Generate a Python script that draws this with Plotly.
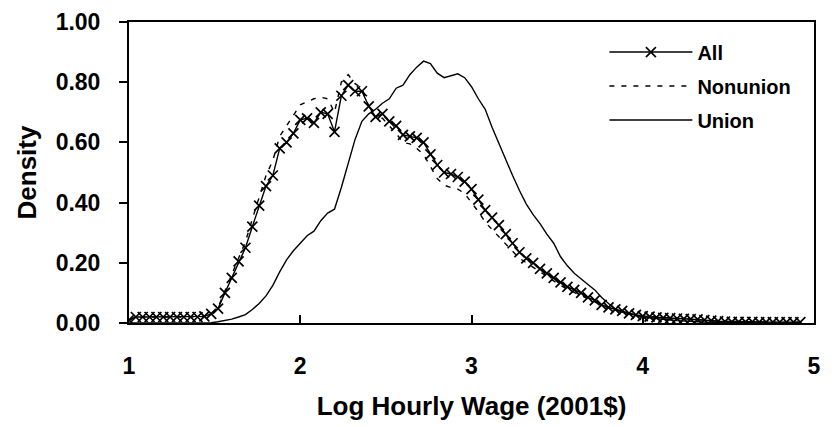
import plotly.graph_objects as go

# Log hourly wage grid (2001$)
log_wage = [
    1.00, 1.04, 1.08, 1.12, 1.16, 1.20, 1.24, 1.28, 1.32, 1.36,
    1.40, 1.44, 1.48, 1.52, 1.56, 1.60, 1.64, 1.68, 1.72, 1.76,
    1.80, 1.84, 1.88, 1.92, 1.96, 2.00, 2.04, 2.08, 2.12, 2.16,
    2.20, 2.24, 2.28, 2.32, 2.36, 2.40, 2.44, 2.48, 2.52, 2.56,
    2.60, 2.64, 2.68, 2.72, 2.76, 2.80, 2.84, 2.88, 2.92, 2.96,
    3.00, 3.04, 3.08, 3.12, 3.16, 3.20, 3.24, 3.28, 3.32, 3.36,
    3.40, 3.44, 3.48, 3.52, 3.56, 3.60, 3.64, 3.68, 3.72, 3.76,
    3.80, 3.84, 3.88, 3.92, 3.96, 4.00, 4.04, 4.08, 4.12, 4.16,
    4.20, 4.24, 4.28, 4.32, 4.36, 4.40, 4.44, 4.48, 4.52, 4.56,
    4.60, 4.64, 4.68, 4.72, 4.76, 4.80, 4.84, 4.88, 4.92,
]

density_all = [
    0.010, 0.020, 0.020, 0.020, 0.020, 0.020, 0.020, 0.020, 0.020, 0.020,
    0.020, 0.022, 0.030, 0.048, 0.100, 0.150, 0.205, 0.250, 0.320, 0.390,
    0.455, 0.490, 0.580, 0.600, 0.630, 0.675, 0.680, 0.665, 0.700, 0.695,
    0.635, 0.755, 0.790, 0.770, 0.770, 0.720, 0.685, 0.695, 0.670, 0.655,
    0.625, 0.620, 0.615, 0.600, 0.560, 0.525, 0.500, 0.495, 0.485, 0.470,
    0.445, 0.410, 0.375, 0.350, 0.325, 0.295, 0.265, 0.235, 0.215, 0.200,
    0.180, 0.165, 0.150, 0.135, 0.120, 0.110, 0.100, 0.085, 0.075, 0.060,
    0.052, 0.045, 0.040, 0.032, 0.027, 0.023, 0.021, 0.019, 0.017, 0.016,
    0.015, 0.014, 0.013, 0.012, 0.010, 0.008, 0.006, 0.005, 0.004, 0.004,
    0.004, 0.004, 0.003, 0.003, 0.003, 0.003, 0.003, 0.003, 0.003,
]

density_nonunion = [
    0.010, 0.020, 0.020, 0.020, 0.020, 0.020, 0.020, 0.020, 0.020, 0.020,
    0.020, 0.023, 0.032, 0.052, 0.108, 0.162, 0.220, 0.270, 0.345, 0.415,
    0.490, 0.540, 0.620, 0.655, 0.690, 0.725, 0.735, 0.745, 0.750, 0.745,
    0.700, 0.800, 0.825, 0.795, 0.780, 0.720, 0.680, 0.680, 0.655, 0.630,
    0.600, 0.595, 0.580, 0.560, 0.520, 0.480, 0.458, 0.450, 0.445, 0.430,
    0.400, 0.370, 0.335, 0.310, 0.285, 0.260, 0.238, 0.215, 0.200, 0.185,
    0.168, 0.153, 0.140, 0.125, 0.112, 0.102, 0.092, 0.080, 0.070, 0.058,
    0.050, 0.044, 0.038, 0.032, 0.027, 0.023, 0.021, 0.019, 0.017, 0.016,
    0.015, 0.014, 0.013, 0.012, 0.010, 0.008, 0.006, 0.005, 0.004, 0.004,
    0.004, 0.004, 0.003, 0.003, 0.003, 0.003, 0.003, 0.003, 0.003,
]

density_union = [
    0.000, 0.000, 0.000, 0.000, 0.000, 0.000, 0.000, 0.000, 0.000, 0.000,
    0.000, 0.000, 0.001, 0.004, 0.008, 0.013, 0.020, 0.028, 0.045, 0.065,
    0.090, 0.125, 0.170, 0.210, 0.240, 0.265, 0.290, 0.305, 0.340, 0.365,
    0.378, 0.450, 0.530, 0.610, 0.670, 0.695, 0.710, 0.730, 0.745, 0.780,
    0.790, 0.825, 0.850, 0.870, 0.862, 0.830, 0.815, 0.822, 0.828, 0.815,
    0.785, 0.745, 0.710, 0.650, 0.595, 0.545, 0.490, 0.440, 0.395, 0.360,
    0.330, 0.295, 0.265, 0.220, 0.190, 0.165, 0.145, 0.128, 0.110, 0.085,
    0.065, 0.045, 0.036, 0.030, 0.024, 0.020, 0.017, 0.014, 0.012, 0.010,
    0.008, 0.006, 0.005, 0.004, 0.003, 0.002, 0.001, 0.001, 0.001, 0.001,
    0.000, 0.000, 0.000, 0.000, 0.000, 0.000, 0.000, 0.000, 0.000,
]

x_ticks = [1, 2, 3, 4, 5]
y_ticks = [0.0, 0.2, 0.4, 0.6, 0.8, 1.0]
y_tick_text = ["0.00", "0.20", "0.40", "0.60", "0.80", "1.00"]

FONT = "Liberation Sans, Arial, sans-serif"

fig = go.Figure()
fig.add_trace(go.Scatter(
    x=log_wage, y=density_all, name="<b>All</b>", mode="lines+markers",
    legendgroup="a",
    line=dict(color="black", width=1.4),
    marker=dict(symbol="x-thin", size=10, line=dict(color="black", width=1.7)),
))
fig.add_trace(go.Scatter(
    x=log_wage, y=density_nonunion, name="<b>Nonunion</b>", mode="lines",
    legendgroup="b",
    line=dict(color="black", width=1.4, dash="5px,7px"),
))
fig.add_trace(go.Scatter(
    x=log_wage, y=density_union, name="<b>Union</b>", mode="lines",
    legendgroup="c",
    line=dict(color="black", width=1.4),
))

fig.update_layout(
    width=839, height=427,
    margin=dict(l=121, r=33, t=14, b=112),
    paper_bgcolor="white", plot_bgcolor="white",
    font=dict(family=FONT, color="black"),
    legend=dict(
        x=0.694, y=0.965, xanchor="left", yanchor="top",
        font=dict(family=FONT, size=20, color="black"),
        bgcolor="rgba(0,0,0,0)", itemwidth=83, tracegroupgap=5,
    ),
    xaxis=dict(
        range=[1, 5], tickvals=x_ticks, ticktext=[f"<b>{v}</b>" for v in x_ticks],
        ticks="inside", ticklen=8, tickwidth=2, tickcolor="black",
        showline=True, linecolor="black", linewidth=2, mirror=True,
        showgrid=False, zeroline=False, automargin=False,
        tickfont=dict(size=23, family=FONT), ticklabelstandoff=21,
        title=dict(text="<b>Log Hourly Wage (2001$)</b>", font=dict(size=26, family=FONT), standoff=19),
    ),
    yaxis=dict(
        range=[0, 1], tickvals=y_ticks, ticktext=[f"<b>{t}</b>" for t in y_tick_text],
        ticks="outside", ticklen=8, tickwidth=2, tickcolor="black",
        showline=True, linecolor="black", linewidth=2, mirror=True,
        showgrid=False, zeroline=False, automargin=False,
        tickfont=dict(size=23, family=FONT), ticklabelstandoff=14,
        title=dict(text="<b>Density</b>", font=dict(size=26, family=FONT), standoff=12),
    ),
)

fig.write_html("out.html")
